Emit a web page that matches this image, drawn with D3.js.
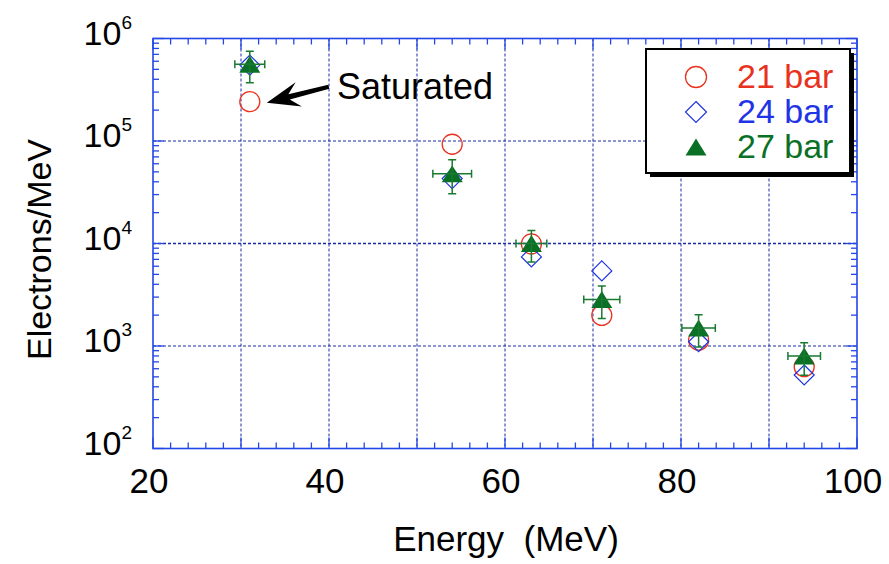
<!DOCTYPE html>
<html><head><meta charset="utf-8">
<script src="https://cdn.jsdelivr.net/npm/d3@7"></script>
<style>
body{margin:0;background:#fff}
svg{display:block}
text{font-family:"Liberation Sans",Arial,Helvetica,sans-serif}
</style>
</head><body>
<svg id="chart" width="889" height="564"></svg>
<script>
// Electron spectrum at three gas pressures
const energy    = [31, 54, 63, 71, 82, 94];            // MeV
const energyErr = [1.7, 2.2, 1.75, 2.05, 1.9, 1.85];   // MeV, half-width
const bar21     = [2.42e5, 9.3e4, 9.9e3, 1.99e3, 1.14e3, 628];
const bar24     = [5.5e5, 4.3e4, 7.4e3, 5.4e3, 1.1e3, 521];
const bar27     = [5.6e5, 4.8e4, 1.0e4, 2.85e3, 1.5e3, 798];
const bar27Err  = [1.9e5, 1.75e4, 3.4e3, 1.0e3, 5.2e2, 2.8e2];
const seriesNames = ["21 bar", "24 bar", "27 bar"];
const xTickLabels = [20, 40, 60, 80, 100];
const yTickExps   = [2, 3, 4, 5, 6];

const svg = d3.select("#chart");
const W = 889, H = 564;
const m = {left: 153, right: 889 - 857, top: 38.5, bottom: 564 - 448.5};

const x = d3.scaleLinear().domain([20, 100]).range([m.left, W - m.right]);
const y = d3.scaleLog().domain([1e2, 1e6]).range([H - m.bottom, m.top]);

const axisBlue = "#2346e8", gridBlue = "#1a2aa6";
const red = "#e8321e", blue = "#1e34e6", green = "#0a7026";

// dashed grid
const g = svg.append("g");
g.selectAll("line.vg").data(d3.range(30, 100, 10)).join("line")
  .attr("x1", d => x(d)).attr("x2", d => x(d))
  .attr("y1", y(1e6)).attr("y2", y(1e2))
  .attr("stroke", gridBlue).attr("stroke-width", 1).attr("stroke-dasharray", "3,2");
g.selectAll("line.hg").data([1e3, 1e4, 1e5]).join("line")
  .attr("x1", x(20)).attr("x2", x(100))
  .attr("y1", d => y(d)).attr("y2", d => y(d))
  .attr("stroke", gridBlue).attr("stroke-width", d => d === 1e4 ? 1.6 : 1)
  .attr("stroke-dasharray", "3,2");

// frame with inward ticks on all four sides
const xMinor = d3.range(20, 100.01, 2);
const yMinor = [];
for (let e = 2; e < 6; e++) for (let k = 1; k <= 9; k++) yMinor.push(k * Math.pow(10, e));
yMinor.push(1e6);

const ticks = svg.append("g");
// bottom & top
ticks.selectAll("line.xb").data(xMinor).join("line")
  .attr("x1", d => x(d)).attr("x2", d => x(d))
  .attr("y1", y(1e2)).attr("y2", d => y(1e2) - (d % 10 === 0 ? 11 : 6));
ticks.selectAll("line.xt").data(xMinor).join("line")
  .attr("x1", d => x(d)).attr("x2", d => x(d))
  .attr("y1", y(1e6)).attr("y2", d => y(1e6) + (d % 10 === 0 ? 11 : 6));
// left & right
const isDecade = d => Math.abs(Math.log10(d) - Math.round(Math.log10(d))) < 1e-9;
ticks.selectAll("line.yl").data(yMinor).join("line")
  .attr("y1", d => y(d)).attr("y2", d => y(d))
  .attr("x1", x(20)).attr("x2", d => x(20) + (isDecade(d) ? 11 : 6));
ticks.selectAll("line.yr").data(yMinor).join("line")
  .attr("y1", d => y(d)).attr("y2", d => y(d))
  .attr("x1", x(100)).attr("x2", d => x(100) - (isDecade(d) ? 11 : 6));
ticks.selectAll("line").attr("stroke", axisBlue).attr("stroke-width", 1.3);

svg.append("rect")
  .attr("x", x(20)).attr("y", y(1e6))
  .attr("width", x(100) - x(20)).attr("height", y(1e2) - y(1e6))
  .attr("fill", "none").attr("stroke", axisBlue).attr("stroke-width", 1.6);

// tick labels
svg.append("g").selectAll("text").data(xTickLabels).join("text")
  .attr("x", d => x(d) - 4).attr("y", 493)
  .attr("text-anchor", "middle").attr("font-size", 35).attr("fill", "#000")
  .text(d => d);

const yl = svg.append("g").selectAll("text").data(yTickExps).join("text")
  .attr("x", 132).attr("y", d => y(Math.pow(10, d)) + 6)
  .attr("text-anchor", "end").attr("font-size", 34).attr("fill", "#000");
yl.append("tspan").text("10");
yl.append("tspan").attr("dy", -16).attr("font-size", 19).text(d => d);

// axis titles
svg.append("text").attr("x", 506).attr("y", 551)
  .attr("text-anchor", "middle").attr("font-size", 35)
  .style("white-space", "pre").text("Energy  (MeV)");
svg.append("text")
  .attr("transform", `translate(51,${(y(1e2) + y(1e6)) / 2 + 6}) rotate(-90)`)
  .attr("text-anchor", "middle").attr("font-size", 34)
  .text("Electrons/MeV");

// markers
const triPath = (cx, cy, w, h) =>
  `M${cx},${cy - h / 2}L${cx + w / 2},${cy + h / 2}L${cx - w / 2},${cy + h / 2}Z`;
const diaPath = (cx, cy, r) =>
  `M${cx},${cy - r}L${cx + r},${cy}L${cx},${cy + r}L${cx - r},${cy}Z`;

const idx = d3.range(energy.length);
svg.append("g").selectAll("circle").data(idx).join("circle")
  .attr("cx", i => x(energy[i])).attr("cy", i => y(bar21[i])).attr("r", 10)
  .attr("fill", "none").attr("stroke", red).attr("stroke-width", 1.3);

svg.append("g").selectAll("path").data(idx).join("path")
  .attr("d", i => diaPath(x(energy[i]), y(bar24[i]), 10))
  .attr("fill", "none").attr("stroke", blue).attr("stroke-width", 1.2);

svg.append("g").selectAll("path").data(idx).join("path")
  .attr("d", i => triPath(x(energy[i]), y(bar27[i]), 21, 17))
  .attr("fill", green);

// error bars on the 27 bar series
const eb = svg.append("g").attr("stroke", "#1a7a30").attr("stroke-width", 1.5).attr("fill", "none");
idx.forEach(i => {
  const cx = x(energy[i]), cy = y(bar27[i]);
  const x0 = x(energy[i] - energyErr[i]), x1 = x(energy[i] + energyErr[i]);
  const yT = y(bar27[i] + bar27Err[i]), yB = y(bar27[i] - bar27Err[i]);
  eb.append("path").attr("d",
    `M${x0},${cy}H${x1}M${x0},${cy - 4}V${cy + 4}M${x1},${cy - 4}V${cy + 4}` +
    `M${cx},${yT}V${yB}M${cx - 4},${yT}H${cx + 4}M${cx - 4},${yB}H${cx + 4}`);
});

// "Saturated" annotation with arrow to the 21 bar point
const tip = [x(energy[0]) + 17, y(bar21[0]) + 1];
const tail = [tip[0] + 62, tip[1] - 16];
(function drawArrow() {
  const dx = tail[0] - tip[0], dy = tail[1] - tip[1];
  const len = Math.hypot(dx, dy);
  const u = [dx / len, dy / len], n = [-u[1], u[0]];
  const L = 33, Wd = 12.5, notch = 10, s = 2.8;
  const P = (a, b) => [tip[0] + u[0] * a + n[0] * b, tip[1] + u[1] * a + n[1] * b];
  const pts = [P(0, 0), P(L, Wd), P(L - notch, s), P(len, s * 0.75),
               P(len, -s * 0.75), P(L - notch, -s), P(L, -Wd)];
  svg.append("path").attr("d", d3.line()(pts) + "Z").attr("fill", "#000");
})();
svg.append("text").attr("x", 337).attr("y", 99).attr("font-size", 36).text("Saturated");

// legend
const lg = svg.append("g");
lg.append("rect").attr("x", 650).attr("y", 53).attr("width", 204).attr("height", 124).attr("fill", "#000");
lg.append("rect").attr("x", 646).attr("y", 49).attr("width", 204).attr("height", 124)
  .attr("fill", "#fff").attr("stroke", "#000").attr("stroke-width", 2);
const colors = [red, blue, green];
const rowY = [77, 112, 147];
lg.append("circle").attr("cx", 696).attr("cy", rowY[0]).attr("r", 10.5)
  .attr("fill", "none").attr("stroke", red).attr("stroke-width", 1.3);
lg.append("path").attr("d", diaPath(696, rowY[1], 10.5))
  .attr("fill", "none").attr("stroke", blue).attr("stroke-width", 1.2);
lg.append("path").attr("d", triPath(696, rowY[2], 21, 17)).attr("fill", green);
lg.selectAll("text").data(seriesNames).join("text")
  .attr("x", 737).attr("y", (d, i) => rowY[i] + 11)
  .attr("font-size", 34).attr("fill", (d, i) => colors[i]).text(d => d);
</script>
</body></html>
